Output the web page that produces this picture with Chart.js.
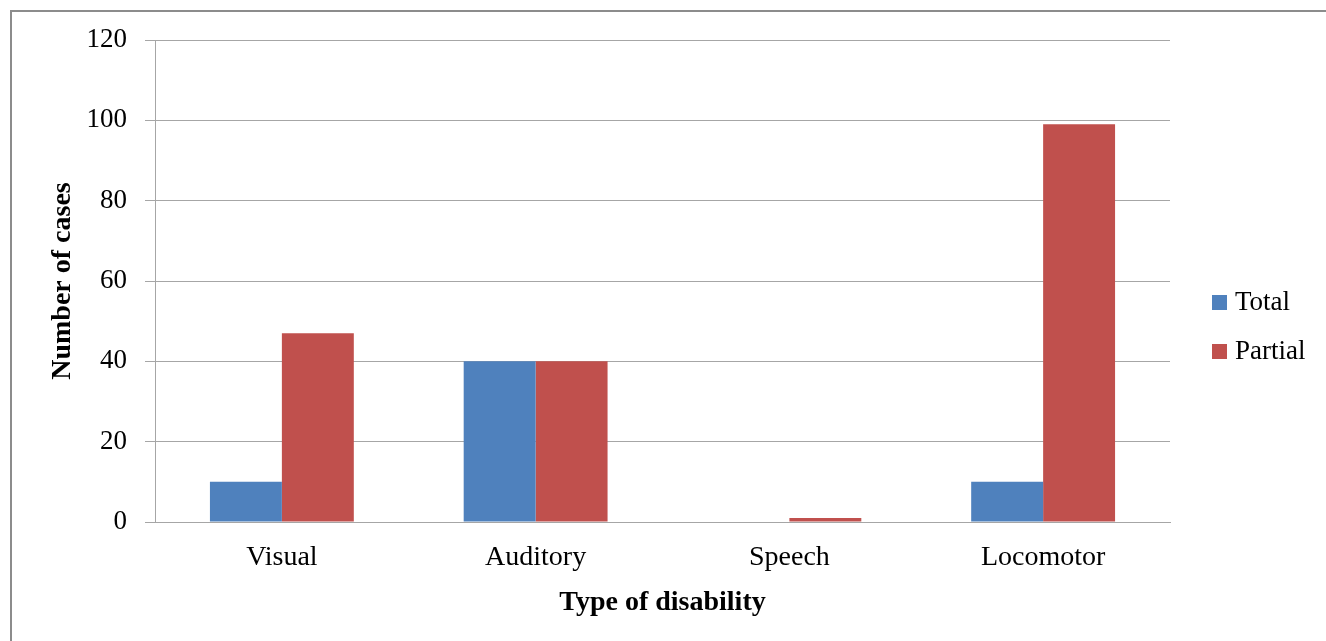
<!DOCTYPE html>
<html>
<head>
<meta charset="utf-8">
<script src="https://cdn.jsdelivr.net/npm/chart.js@4.4.0/dist/chart.umd.min.js"></script>
<style>
  html, body { margin: 0; padding: 0; background: #ffffff; }
  #wrap { position: relative; width: 1326px; height: 641px; }
  canvas { display: block; }
</style>
</head>
<body>
<div id="wrap"><canvas id="chart" width="1326" height="641"></canvas></div>
<script>
// Cases by type of disability
const categories = ['Visual', 'Auditory', 'Speech', 'Locomotor'];
const totalCases = [10, 40, 0, 10];
const partialCases = [47, 40, 1, 99];
const seriesNames = ['Total', 'Partial'];
const seriesColors = ['#4F81BD', '#C0504D'];
const yTicks = [0, 20, 40, 60, 80, 100, 120];

const serif = '"Liberation Serif", "Times New Roman", serif';
const gridGrey = '#a6a6a6';

// Partial frame along the top and left edges
const framePlugin = {
  id: 'frame',
  beforeDraw(chart) {
    const ctx = chart.ctx;
    ctx.save();
    ctx.strokeStyle = '#8c8c8c';
    ctx.lineWidth = 2;
    ctx.beginPath();
    ctx.moveTo(11, chart.height);
    ctx.lineTo(11, 11);
    ctx.lineTo(chart.width, 11);
    ctx.stroke();
    ctx.restore();
  }
};

// Legend at the right, one entry per dataset
const sideLegend = {
  id: 'sideLegend',
  afterDraw(chart) {
    const ctx = chart.ctx;
    const area = chart.chartArea;
    const x0 = area.right + 42;
    const yFirst = 302;
    const step = 49;
    ctx.save();
    ctx.font = '27px ' + serif;
    ctx.textBaseline = 'middle';
    ctx.textAlign = 'left';
    chart.data.datasets.forEach((ds, i) => {
      const cy = yFirst + i * step;
      ctx.fillStyle = ds.backgroundColor;
      ctx.fillRect(x0, cy - 7, 15, 15);
      ctx.fillStyle = '#000000';
      ctx.fillText(ds.label, x0 + 23, cy + 1);
    });
    ctx.restore();
  }
};

new Chart(document.getElementById('chart'), {
  type: 'bar',
  data: {
    labels: categories,
    datasets: [
      { label: seriesNames[0], data: totalCases, backgroundColor: seriesColors[0] },
      { label: seriesNames[1], data: partialCases, backgroundColor: seriesColors[1] }
    ]
  },
  options: {
    responsive: false,
    animation: false,
    layout: { padding: { left: 0, top: 40, right: 156, bottom: 0 } },
    datasets: {
      bar: { categoryPercentage: 0.567, barPercentage: 1.0, borderWidth: 0 }
    },
    plugins: {
      legend: { display: false },
      tooltip: { enabled: false }
    },
    scales: {
      x: {
        grid: { display: false },
        border: { display: true, color: gridGrey, width: 1 },
        ticks: {
          color: '#000000',
          padding: 11,
          font: { family: serif, size: 28 }
        },
        title: {
          display: true,
          text: 'Type of disability',
          color: '#000000',
          font: { family: serif, size: 28, weight: 'bold' },
          padding: { top: 0, bottom: 21 }
        },
        afterFit(scale) { scale.height = 119; }
      },
      y: {
        min: 0,
        max: 120,
        afterBuildTicks(scale) { scale.ticks = yTicks.map(v => ({ value: v })); },
        grid: { color: gridGrey, lineWidth: 1, tickLength: 10, drawTicks: true },
        border: { display: true, color: gridGrey, width: 1 },
        ticks: {
          color: '#000000',
          padding: 18,
          font: { family: serif, size: 27 }
        },
        title: {
          display: true,
          text: 'Number of cases',
          color: '#000000',
          font: { family: serif, size: 28, weight: 'bold' },
          padding: { top: 46, bottom: 0 }
        },
        afterFit(scale) { scale.width = 155; }
      }
    }
  },
  plugins: [framePlugin, sideLegend]
});
</script>
</body>
</html>
